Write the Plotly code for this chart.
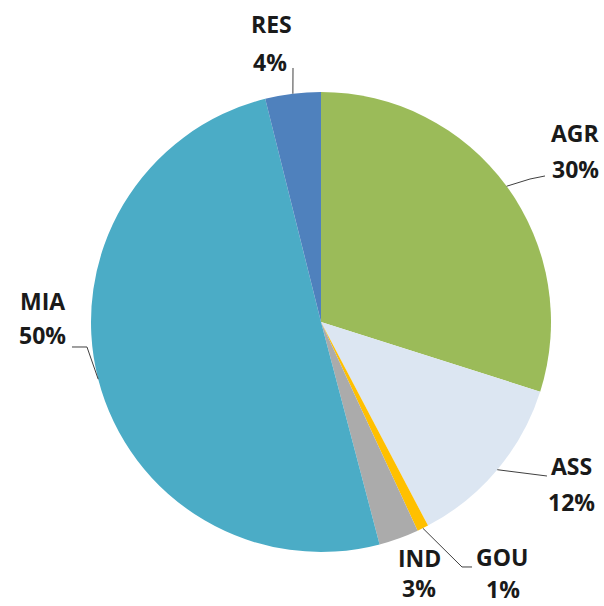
"""
Pie chart of sector shares with outside labels and leader lines
"""

import math

import plotly.graph_objects as go

# data
sectors = ["AGR", "ASS", "GOU", "IND", "MIA", "RES"]
shares = [29.9, 12.4, 0.8, 2.8, 50.2, 3.9]
colors = ["#9BBB59", "#DCE6F2", "#FFC000", "#ABABAB", "#4BACC6", "#4F81BD"]

W, H = 604, 606
CX, CY, R = 321, 322, 230  # pie centre / radius in pixels

# label placement (pixels): name centre, percent centre, leader bend points
label_pos = {
    "AGR": ((575, 133), (575, 169), [(530, 179), (545, 176)]),
    "ASS": ((571, 466), (571, 502), [(547, 476)]),
    "GOU": ((502, 557), (503, 589), [(462, 567), (472, 567)]),
    "IND": ((419, 558), (419, 588), None),
    "MIA": ((42, 301), (42, 335), [(87, 347), (72, 347)]),
    "RES": ((271, 24), (270, 62), [(293, 68)]),
}


def px(x, y):
    """pixel -> paper coords"""
    return x / W, 1 - y / H


fig = go.Figure(
    go.Pie(
        labels=sectors,
        values=shares,
        sort=False,
        direction="clockwise",
        rotation=0,
        marker=dict(colors=colors, line=dict(width=0)),
        textinfo="none",
        hoverinfo="label+percent",
        domain=dict(
            x=[(CX - R) / W, (CX + R) / W],
            y=[1 - (CY + R) / H, 1 - (CY - R) / H],
        ),
    )
)

total = sum(shares)
cum = 0.0
font = dict(family="Open Sans", size=23, color="#1a1a1a")
for name, val in zip(sectors, shares):
    mid = (cum + val / 2) / total * 2 * math.pi
    cum += val
    name_xy, pct_xy, bends = label_pos[name]
    pct = f"{round(val / total * 100)}%"

    for txt, (x, y) in ((name, name_xy), (pct, pct_xy)):
        ax_, ay_ = px(x, y)
        fig.add_annotation(
            x=ax_, y=ay_, xref="paper", yref="paper",
            text=f"<b>{txt}</b>", showarrow=False, borderpad=0,
            font=font, xanchor="center", yanchor="middle",
        )

    if bends:
        # leader line starts on the pie edge at the slice mid-angle
        ex = CX + R * math.sin(mid)
        ey = CY - R * math.cos(mid)
        pts = [px(ex, ey)] + [px(x, y) for x, y in bends]
        path = "M " + " L ".join(f"{x:.4f},{y:.4f}" for x, y in pts)
        fig.add_shape(
            type="path", path=path, xref="paper", yref="paper",
            line=dict(color="#404040", width=1),
        )

fig.update_layout(
    width=W,
    height=H,
    margin=dict(l=0, r=0, t=0, b=0),
    showlegend=False,
    paper_bgcolor="white",
    plot_bgcolor="white",
)

# remove the default page margin so the figure sits at the window corner
fig.write_html(
    "out.html",
    config={"displayModeBar": False},
    post_script="document.body.style.margin='0';",
)
